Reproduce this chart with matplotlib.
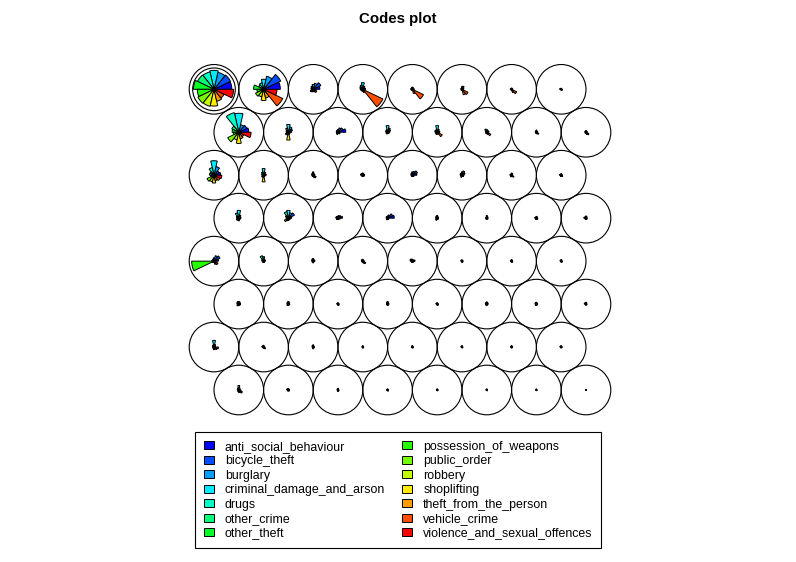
import colorsys
import numpy as np
import matplotlib.pyplot as plt
from matplotlib.patches import Circle, Wedge, Patch

plt.rcParams['font.family'] = ['Liberation Sans', 'DejaVu Sans']

categories = ['anti_social_behaviour', 'bicycle_theft', 'burglary',
              'criminal_damage_and_arson', 'drugs', 'other_crime', 'other_theft',
              'possession_of_weapons', 'public_order', 'robbery', 'shoplifting',
              'theft_from_the_person', 'vehicle_crime', 'violence_and_sexual_offences']

# scaled codebook values (0..1), 8x8 hex SOM, read row by row from the top of the map
anti_social_behaviour = [
    0.80, 0.75, 0.30, 0.12, 0.08, 0.06, 0.05, 0.04,
    0.45, 0.15, 0.35, 0.10, 0.12, 0.10, 0.06, 0.06,
    0.30, 0.12, 0.08, 0.08, 0.20, 0.10, 0.05, 0.05,
    0.10, 0.15, 0.20, 0.30, 0.06, 0.05, 0.05, 0.05,
    0.20, 0.08, 0.08, 0.06, 0.12, 0.05, 0.05, 0.04,
    0.08, 0.06, 0.05, 0.06, 0.04, 0.06, 0.06, 0.04,
    0.06, 0.05, 0.05, 0.04, 0.04, 0.04, 0.05, 0.04,
    0.06, 0.05, 0.04, 0.04, 0.04, 0.03, 0.03, 0.02]
bicycle_theft = [
    0.82, 0.85, 0.38, 0.10, 0.06, 0.10, 0.04, 0.03,
    0.40, 0.20, 0.25, 0.15, 0.10, 0.08, 0.05, 0.05,
    0.25, 0.10, 0.06, 0.06, 0.25, 0.15, 0.06, 0.04,
    0.10, 0.30, 0.15, 0.25, 0.05, 0.06, 0.06, 0.04,
    0.30, 0.06, 0.06, 0.05, 0.08, 0.04, 0.04, 0.04,
    0.08, 0.06, 0.04, 0.06, 0.04, 0.06, 0.05, 0.04,
    0.08, 0.04, 0.04, 0.03, 0.03, 0.03, 0.04, 0.03,
    0.06, 0.04, 0.04, 0.03, 0.03, 0.03, 0.02, 0.02]
burglary = [
    0.78, 0.60, 0.28, 0.15, 0.08, 0.15, 0.05, 0.04,
    0.35, 0.25, 0.20, 0.20, 0.15, 0.10, 0.06, 0.06,
    0.40, 0.15, 0.08, 0.08, 0.18, 0.20, 0.08, 0.05,
    0.15, 0.25, 0.12, 0.15, 0.08, 0.08, 0.07, 0.08,
    0.25, 0.10, 0.08, 0.06, 0.06, 0.04, 0.05, 0.06,
    0.10, 0.08, 0.05, 0.08, 0.05, 0.08, 0.06, 0.06,
    0.12, 0.05, 0.06, 0.04, 0.04, 0.05, 0.05, 0.04,
    0.10, 0.05, 0.05, 0.04, 0.04, 0.04, 0.03, 0.02]
criminal_damage_and_arson = [
    0.85, 0.45, 0.22, 0.30, 0.10, 0.12, 0.06, 0.05,
    0.85, 0.35, 0.12, 0.30, 0.30, 0.12, 0.10, 0.08,
    0.65, 0.30, 0.15, 0.10, 0.15, 0.15, 0.10, 0.08,
    0.35, 0.35, 0.10, 0.10, 0.12, 0.12, 0.08, 0.10,
    0.15, 0.20, 0.12, 0.08, 0.08, 0.06, 0.07, 0.07,
    0.12, 0.12, 0.06, 0.12, 0.06, 0.10, 0.08, 0.08,
    0.30, 0.08, 0.10, 0.06, 0.07, 0.06, 0.06, 0.06,
    0.20, 0.07, 0.08, 0.05, 0.05, 0.05, 0.05, 0.02]
drugs = [
    0.80, 0.30, 0.15, 0.20, 0.08, 0.05, 0.04, 0.04,
    0.90, 0.20, 0.10, 0.12, 0.12, 0.15, 0.06, 0.05,
    0.35, 0.15, 0.10, 0.08, 0.10, 0.08, 0.06, 0.05,
    0.25, 0.30, 0.08, 0.08, 0.10, 0.06, 0.06, 0.06,
    0.10, 0.25, 0.10, 0.08, 0.10, 0.05, 0.05, 0.05,
    0.12, 0.10, 0.05, 0.08, 0.05, 0.08, 0.08, 0.06,
    0.10, 0.06, 0.08, 0.04, 0.05, 0.05, 0.05, 0.05,
    0.10, 0.06, 0.06, 0.04, 0.04, 0.04, 0.03, 0.02]
other_crime = [
    0.82, 0.25, 0.12, 0.15, 0.06, 0.06, 0.05, 0.06,
    0.35, 0.12, 0.08, 0.10, 0.12, 0.08, 0.06, 0.06,
    0.20, 0.10, 0.08, 0.10, 0.08, 0.10, 0.06, 0.05,
    0.12, 0.15, 0.10, 0.08, 0.08, 0.05, 0.06, 0.08,
    0.08, 0.10, 0.08, 0.08, 0.12, 0.06, 0.05, 0.06,
    0.10, 0.08, 0.06, 0.06, 0.06, 0.08, 0.07, 0.08,
    0.08, 0.07, 0.06, 0.04, 0.05, 0.05, 0.05, 0.06,
    0.08, 0.08, 0.05, 0.04, 0.04, 0.04, 0.03, 0.02]
other_theft = [
    0.92, 0.45, 0.10, 0.12, 0.08, 0.05, 0.06, 0.07,
    0.30, 0.10, 0.08, 0.08, 0.10, 0.06, 0.05, 0.05,
    0.20, 0.08, 0.06, 0.10, 0.06, 0.08, 0.08, 0.08,
    0.10, 0.10, 0.10, 0.06, 0.06, 0.05, 0.08, 0.10,
    0.10, 0.08, 0.06, 0.06, 0.10, 0.05, 0.05, 0.05,
    0.08, 0.06, 0.05, 0.05, 0.06, 0.06, 0.06, 0.08,
    0.06, 0.08, 0.05, 0.04, 0.04, 0.05, 0.04, 0.06,
    0.06, 0.08, 0.04, 0.05, 0.04, 0.04, 0.03, 0.02]
possession_of_weapons = [
    0.75, 0.30, 0.08, 0.10, 0.05, 0.04, 0.03, 0.03,
    0.25, 0.08, 0.06, 0.05, 0.06, 0.05, 0.04, 0.04,
    0.15, 0.06, 0.05, 0.05, 0.05, 0.05, 0.04, 0.04,
    0.08, 0.10, 0.05, 0.05, 0.05, 0.04, 0.04, 0.04,
    1.00, 0.05, 0.05, 0.04, 0.05, 0.03, 0.03, 0.03,
    0.06, 0.05, 0.03, 0.04, 0.03, 0.04, 0.04, 0.03,
    0.05, 0.03, 0.03, 0.03, 0.03, 0.03, 0.03, 0.03,
    0.04, 0.03, 0.03, 0.03, 0.02, 0.02, 0.02, 0.02]
public_order = [
    0.80, 0.40, 0.15, 0.08, 0.06, 0.05, 0.04, 0.03,
    0.55, 0.15, 0.08, 0.08, 0.08, 0.06, 0.05, 0.05,
    0.35, 0.10, 0.06, 0.06, 0.06, 0.06, 0.05, 0.05,
    0.12, 0.20, 0.08, 0.06, 0.08, 0.05, 0.05, 0.05,
    0.08, 0.06, 0.06, 0.05, 0.06, 0.04, 0.04, 0.04,
    0.10, 0.08, 0.04, 0.05, 0.04, 0.06, 0.06, 0.04,
    0.06, 0.04, 0.05, 0.03, 0.03, 0.03, 0.03, 0.04,
    0.06, 0.05, 0.04, 0.03, 0.03, 0.03, 0.02, 0.02]
robbery = [
    0.78, 0.35, 0.12, 0.08, 0.05, 0.05, 0.04, 0.03,
    0.35, 0.12, 0.10, 0.08, 0.10, 0.06, 0.05, 0.04,
    0.30, 0.10, 0.06, 0.06, 0.06, 0.10, 0.08, 0.06,
    0.10, 0.12, 0.06, 0.08, 0.10, 0.05, 0.06, 0.06,
    0.06, 0.06, 0.06, 0.05, 0.06, 0.04, 0.04, 0.04,
    0.08, 0.06, 0.04, 0.05, 0.04, 0.06, 0.07, 0.05,
    0.08, 0.05, 0.06, 0.03, 0.04, 0.03, 0.04, 0.04,
    0.08, 0.05, 0.05, 0.03, 0.03, 0.03, 0.02, 0.02]
shoplifting = [
    0.75, 0.50, 0.10, 0.10, 0.06, 0.05, 0.05, 0.04,
    0.50, 0.35, 0.06, 0.06, 0.08, 0.06, 0.05, 0.05,
    0.35, 0.30, 0.05, 0.06, 0.05, 0.05, 0.05, 0.04,
    0.12, 0.10, 0.06, 0.05, 0.06, 0.05, 0.06, 0.05,
    0.06, 0.06, 0.08, 0.05, 0.05, 0.05, 0.04, 0.04,
    0.06, 0.06, 0.05, 0.05, 0.04, 0.05, 0.05, 0.04,
    0.12, 0.04, 0.08, 0.05, 0.04, 0.04, 0.04, 0.04,
    0.10, 0.04, 0.07, 0.04, 0.03, 0.03, 0.03, 0.02]
theft_from_the_person = [
    0.55, 0.40, 0.12, 0.15, 0.20, 0.25, 0.15, 0.05,
    0.30, 0.10, 0.06, 0.06, 0.10, 0.10, 0.08, 0.10,
    0.25, 0.08, 0.12, 0.06, 0.06, 0.06, 0.06, 0.05,
    0.08, 0.08, 0.06, 0.06, 0.06, 0.05, 0.06, 0.05,
    0.15, 0.06, 0.05, 0.10, 0.05, 0.05, 0.06, 0.05,
    0.06, 0.05, 0.06, 0.05, 0.06, 0.05, 0.05, 0.05,
    0.10, 0.08, 0.05, 0.04, 0.04, 0.04, 0.04, 0.04,
    0.12, 0.05, 0.05, 0.05, 0.04, 0.04, 0.03, 0.02]
vehicle_crime = [
    0.50, 0.95, 0.18, 1.00, 0.55, 0.30, 0.25, 0.06,
    0.25, 0.08, 0.10, 0.08, 0.25, 0.20, 0.12, 0.15,
    0.30, 0.06, 0.15, 0.06, 0.08, 0.08, 0.12, 0.08,
    0.06, 0.06, 0.06, 0.06, 0.06, 0.06, 0.07, 0.06,
    0.20, 0.06, 0.05, 0.15, 0.06, 0.05, 0.05, 0.06,
    0.06, 0.05, 0.06, 0.06, 0.06, 0.05, 0.05, 0.05,
    0.15, 0.10, 0.05, 0.04, 0.05, 0.04, 0.04, 0.04,
    0.18, 0.06, 0.05, 0.05, 0.04, 0.04, 0.03, 0.02]
violence_and_sexual_offences = [
    0.88, 0.60, 0.12, 0.10, 0.08, 0.06, 0.05, 0.04,
    0.55, 0.08, 0.08, 0.06, 0.08, 0.06, 0.05, 0.05,
    0.35, 0.08, 0.06, 0.08, 0.08, 0.06, 0.05, 0.05,
    0.08, 0.10, 0.10, 0.06, 0.06, 0.05, 0.06, 0.05,
    0.10, 0.05, 0.05, 0.06, 0.08, 0.04, 0.05, 0.04,
    0.08, 0.06, 0.04, 0.05, 0.05, 0.05, 0.05, 0.04,
    0.20, 0.05, 0.05, 0.04, 0.04, 0.04, 0.04, 0.04,
    0.10, 0.04, 0.04, 0.04, 0.03, 0.03, 0.03, 0.02]

codes = np.column_stack([anti_social_behaviour, bicycle_theft, burglary,
                         criminal_damage_and_arson, drugs, other_crime, other_theft,
                         possession_of_weapons, public_order, robbery, shoplifting,
                         theft_from_the_person, vehicle_crime, violence_and_sexual_offences])

xdim, ydim = 8, 8
n_var = len(categories)

# rev(rainbow(14, end = 2/3)) like kohonen's default
hues = np.linspace(0, 2 / 3, n_var)[::-1]
colors = [colorsys.hsv_to_rgb(h, 1, 1) for h in hues]

# hexagonal grid positions, top row first
pts = []
for r in range(ydim):
    j = ydim - 1 - r
    for c in range(xdim):
        x = c + 1 + (0.5 if j % 2 == 0 else 0)
        y = 1 + j * np.sqrt(3) / 2
        pts.append((x, y))

fig = plt.figure(figsize=(7.96, 5.62), dpi=100)
ax = fig.add_axes([0, 0, 1, 1])
s = 49.6
ax.set_xlim(1 - 214 / s, 1 + 582 / s)
ax.set_ylim(1 - 172 / s, 1 + 390 / s)
ax.axis('off')

seg = 360 / n_var
length = 0.45
for i, (x, y) in enumerate(pts):
    ax.add_patch(Circle((x, y), 0.5, fill=False, edgecolor='black', lw=0.8))
    for k in range(n_var):
        v = codes[i, k]
        if v <= 0:
            continue
        ax.add_patch(Wedge((x, y), length * v, k * seg, (k + 1) * seg,
                           facecolor=colors[k], edgecolor='black', lw=0.7))
# the first unit carries an extra ring
x0, y0 = pts[0]
ax.add_patch(Circle((x0, y0), 0.43, fill=False, edgecolor='black', lw=0.8))

fig.text(0.5, 1 - 19 / 562, 'Codes plot', ha='center', va='center',
         fontsize=10.8, fontweight='bold')

handles = [Patch(facecolor=colors[k], edgecolor='black', lw=0.7) for k in range(n_var)]
leg = ax.legend(handles, categories, ncol=2, loc='upper left',
                bbox_to_anchor=(195 / 796, 1 - 432 / 562), bbox_transform=fig.transFigure,
                fontsize=8.9, frameon=True, fancybox=False, framealpha=1,
                edgecolor='black', borderaxespad=0, borderpad=0.7,
                handlelength=0.8, handleheight=0.64, handletextpad=0.9,
                labelspacing=0.2, columnspacing=1.4)
leg.get_frame().set_linewidth(0.8)

fig.savefig('out.png', dpi=100)
